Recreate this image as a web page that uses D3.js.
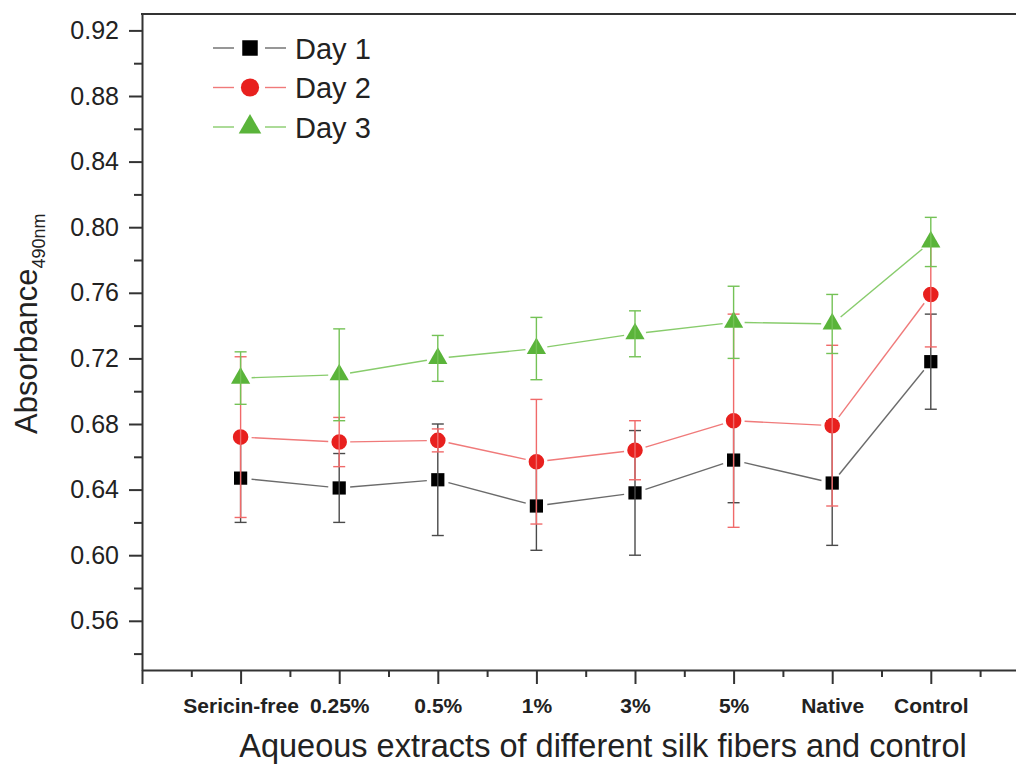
<!DOCTYPE html>
<html>
<head>
<meta charset="utf-8">
<script src="https://cdn.jsdelivr.net/npm/d3@7"></script>
<style>
  body { margin: 0; background: #fff; }
  svg { display: block; font-family: "Liberation Sans", Arial, sans-serif; }
</style>
</head>
<body>
<div id="chart"></div>
<script>
// Absorbance (490nm) per extract, three days, with error bars
const categories = ['Sericin-free', '0.25%', '0.5%', '1%', '3%', '5%', 'Native', 'Control'];

const day1 = [0.647, 0.641, 0.646, 0.630, 0.638, 0.658, 0.644, 0.718];
const day1Err = [0.027, 0.021, 0.034, 0.027, 0.038, 0.026, 0.038, 0.029];

const day2 = [0.672, 0.669, 0.670, 0.657, 0.664, 0.682, 0.679, 0.759];
const day2Err = [0.049, 0.015, 0.007, 0.038, 0.018, 0.065, 0.049, 0.032];

const day3 = [0.708, 0.710, 0.720, 0.726, 0.735, 0.742, 0.741, 0.791];
const day3Err = [0.016, 0.028, 0.014, 0.019, 0.014, 0.022, 0.018, 0.015];

const yMajorTicks = [0.56, 0.60, 0.64, 0.68, 0.72, 0.76, 0.80, 0.84, 0.88, 0.92];

const series = [
    { name: 'Day 1', values: day1, err: day1Err, shape: d3.symbolSquare, size: 175, legendSize: 240,
      marker: '#000000', line: '#6b6b6b', bar: '#4a4a4a' },
    { name: 'Day 2', values: day2, err: day2Err, shape: d3.symbolCircle, size: 190, legendSize: 260,
      marker: '#e8201e', line: '#f07a7a', bar: '#f06a6a' },
    { name: 'Day 3', values: day3, err: day3Err, shape: d3.symbolTriangle, size: 160, legendSize: 220,
      marker: '#5ab43a', line: '#88cc6c', bar: '#74c256' }
];

const W = 1016, H = 765;
const plot = { left: 142, top: 14, bottom: 670 };

const svg = d3.select('#chart').append('svg')
    .attr('width', W)
    .attr('height', H);

svg.append('rect').attr('width', W).attr('height', H).attr('fill', '#fff');

// Scales: categories sit at integer positions, axis starts one step left
const x = d3.scaleLinear().domain([-1, 8.8]).range([plot.left, plot.left + 9.8 * 98.6]);
const y = d3.scaleLinear().domain([0.53, 0.93]).range([plot.bottom, plot.top]);

const axisColor = '#333';
const textColor = '#222';

// Y axis
const yTicks = d3.range(0.54, 0.925, 0.02).map(v => +v.toFixed(2));
const isMajorY = v => yMajorTicks.some(m => Math.abs(m - v) < 1e-6);

const yAxis = svg.append('g')
    .attr('transform', `translate(${plot.left},0)`)
    .call(d3.axisLeft(y)
        .tickValues(yTicks)
        .tickSize(13)
        .tickSizeOuter(0)
        .tickPadding(10)
        .tickFormat(v => isMajorY(v) ? d3.format('.2f')(v) : ''));

yAxis.select('.domain').attr('stroke', axisColor).attr('stroke-width', 2);
yAxis.selectAll('.tick line')
    .attr('stroke', axisColor)
    .attr('stroke-width', 2)
    .attr('x2', v => isMajorY(v) ? -13 : -8);
yAxis.selectAll('.tick text')
    .attr('fill', textColor)
    .attr('font-size', 25);

// X axis: major ticks at categories, minor between
const xTicks = d3.range(-1, 9, 0.5);
const xAxis = svg.append('g')
    .attr('transform', `translate(0,${plot.bottom})`)
    .call(d3.axisBottom(x)
        .tickValues(xTicks)
        .tickSize(14)
        .tickSizeOuter(0)
        .tickPadding(14)
        .tickFormat(v => (Number.isInteger(v) && v >= 0 && v < categories.length) ? categories[v] : ''));

xAxis.select('.domain').attr('stroke', axisColor).attr('stroke-width', 2);
xAxis.selectAll('.tick line')
    .attr('stroke', axisColor)
    .attr('stroke-width', 2)
    .attr('y2', v => Number.isInteger(v) ? 14 : 7);
xAxis.selectAll('.tick text')
    .attr('fill', textColor)
    .attr('font-size', 21)
    .attr('font-weight', 'bold');

// Top frame line
svg.append('line')
    .attr('x1', plot.left - 1).attr('x2', W + 10)
    .attr('y1', plot.top).attr('y2', plot.top)
    .attr('stroke', axisColor)
    .attr('stroke-width', 2);

// Axis titles
svg.append('text')
    .attr('x', 603)
    .attr('y', 757)
    .attr('text-anchor', 'middle')
    .attr('font-size', 32.5)
    .attr('fill', textColor)
    .text('Aqueous extracts of different silk fibers and control');

const yTitle = svg.append('text')
    .attr('transform', 'translate(37,434) rotate(-90)')
    .attr('font-size', 31)
    .attr('fill', textColor);
yTitle.append('tspan').text('Absorbance');
yTitle.append('tspan').attr('font-size', 18).attr('dy', 8).text('490nm');

// Series
const gap = 11;
series.forEach(s => {
    const pts = s.values.map((v, i) => [x(i), y(v)]);
    const g = svg.append('g');

    // line segments, stopping short of each marker
    d3.pairs(pts).forEach(([a, b]) => {
        const dx = b[0] - a[0], dy = b[1] - a[1];
        const len = Math.hypot(dx, dy);
        const ux = dx / len, uy = dy / len;
        g.append('line')
            .attr('x1', a[0] + ux * gap).attr('y1', a[1] + uy * gap)
            .attr('x2', b[0] - ux * gap).attr('y2', b[1] - uy * gap)
            .attr('stroke', s.line)
            .attr('stroke-width', 1.4);
    });

    // markers
    g.selectAll('path.marker')
        .data(s.values)
        .join('path')
        .attr('class', 'marker')
        .attr('d', d3.symbol().type(s.shape).size(s.size))
        .attr('transform', (v, i) => `translate(${x(i)},${y(v)})`)
        .attr('fill', s.marker);

    // error bars
    const eb = g.selectAll('g.err')
        .data(s.values.map((v, i) => ({ i, v, e: s.err[i] })))
        .join('g')
        .attr('class', 'err')
        .attr('stroke', s.bar)
        .attr('stroke-width', 1.4);
    eb.append('line')
        .attr('x1', d => x(d.i)).attr('x2', d => x(d.i))
        .attr('y1', d => y(d.v + d.e)).attr('y2', d => y(d.v - d.e));
    eb.append('line')
        .attr('x1', d => x(d.i) - 6).attr('x2', d => x(d.i) + 6)
        .attr('y1', d => y(d.v + d.e)).attr('y2', d => y(d.v + d.e));
    eb.append('line')
        .attr('x1', d => x(d.i) - 6).attr('x2', d => x(d.i) + 6)
        .attr('y1', d => y(d.v - d.e)).attr('y2', d => y(d.v - d.e));
});

// Legend
const legend = svg.append('g').attr('transform', 'translate(213,48)');
series.forEach((s, k) => {
    const row = legend.append('g').attr('transform', `translate(0,${k * 39.5})`);
    row.append('line').attr('x1', 0).attr('x2', 21).attr('stroke', s.line).attr('stroke-width', 1.4);
    row.append('line').attr('x1', 52).attr('x2', 73).attr('stroke', s.line).attr('stroke-width', 1.4);
    row.append('path')
        .attr('d', d3.symbol().type(s.shape).size(s.legendSize))
        .attr('transform', 'translate(37,0)')
        .attr('fill', s.marker);
    row.append('text')
        .attr('x', 82)
        .attr('y', 10.5)
        .attr('font-size', 29)
        .attr('fill', textColor)
        .text(s.name);
});
</script>
</body>
</html>
